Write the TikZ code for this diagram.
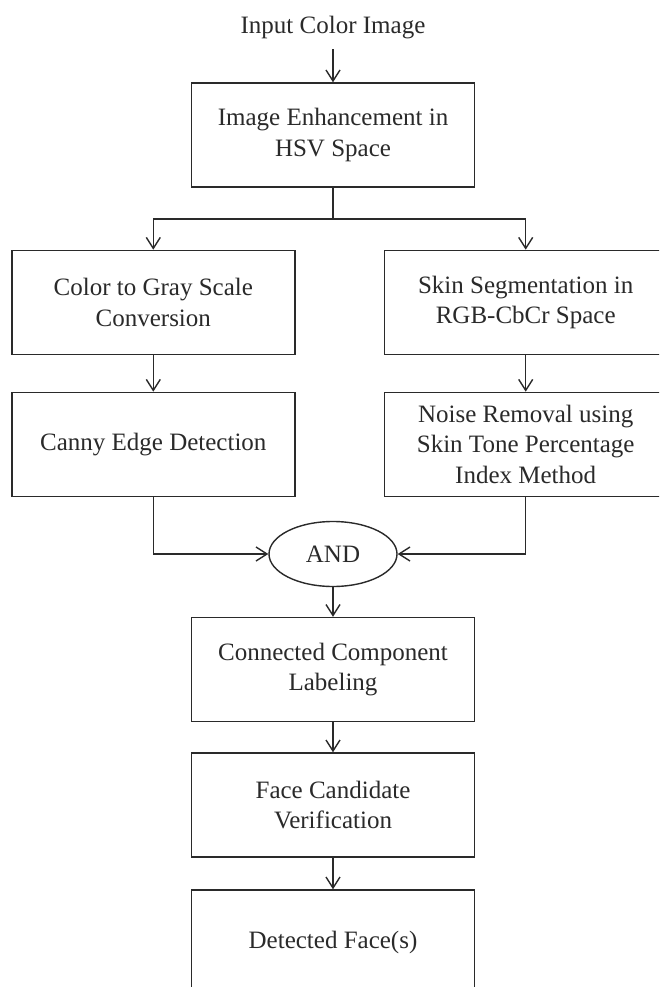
\documentclass[tikz,border=0pt]{standalone}
\usepackage{fontspec}
\setmainfont{Liberation Serif}
\usetikzlibrary{arrows.meta,shapes.geometric}
\definecolor{ink}{HTML}{2A2A2A}
\begin{document}
\begin{tikzpicture}[x=1pt,y=-1pt,
  every node/.style={font=\fontsize{25}{30.5}\selectfont, text=ink},
  stepbox/.style={draw=ink, line width=1.4pt, rectangle, inner sep=0pt,
     minimum width=283pt, minimum height=104pt, align=center},
  andnode/.style={draw=ink, line width=1.4pt, ellipse, inner sep=0pt,
     minimum width=128pt, minimum height=65pt},
  conn/.style={draw=ink, line width=1.4pt},
  arr/.style={conn, -{Straight Barb[length=11pt,width=14pt,line width=1.4pt]}}]
\useasboundingbox (0,0) rectangle (659,987);
\clip (0,0) rectangle (659,987);
\fill[white] (0,0) rectangle (659,987);

\node[anchor=base, inner ysep=10.5pt] (in) at (333,33.3) {Input Color Image};
\node[stepbox] (enh) at (333,135) {Image Enhancement in\\HSV Space};
\node[stepbox] (gray) at (153.3,302.4) {Color to Gray Scale\\Conversion};
\node[stepbox] (skin) at (525.7,302.4) {Skin Segmentation in\\RGB-CbCr Space};
\node[stepbox] (canny) at (153.3,444.4) {Canny Edge Detection};
\node[stepbox] (noise) at (525.7,444.4) {Noise Removal using\\Skin Tone Percentage\\Index Method};
\node[andnode] (and) at (333,554) {AND};
\node[stepbox] (ccl) at (333,669.5) {Connected Component\\Labeling};
\node[stepbox] (fcv) at (333,805) {Face Candidate\\Verification};
\node[stepbox] (det) at (333,942) {Detected Face(s)};

\coordinate (br) at (333,219);

\draw[arr] (in.south) -- (enh.north);
\draw[conn] (enh.south) -- (br);
\draw[arr] (br) -| (gray.north);
\draw[arr] (br) -| (skin.north);
\draw[arr] (gray.south) -- (canny.north);
\draw[arr] (skin.south) -- (noise.north);
\draw[arr] (canny.south) |- (and.west);
\draw[arr] (noise.south) |- (and.east);
\draw[arr] (and.south) -- (ccl.north);
\draw[arr] (ccl.south) -- (fcv.north);
\draw[arr] (fcv.south) -- (det.north);
\end{tikzpicture}
\end{document}
